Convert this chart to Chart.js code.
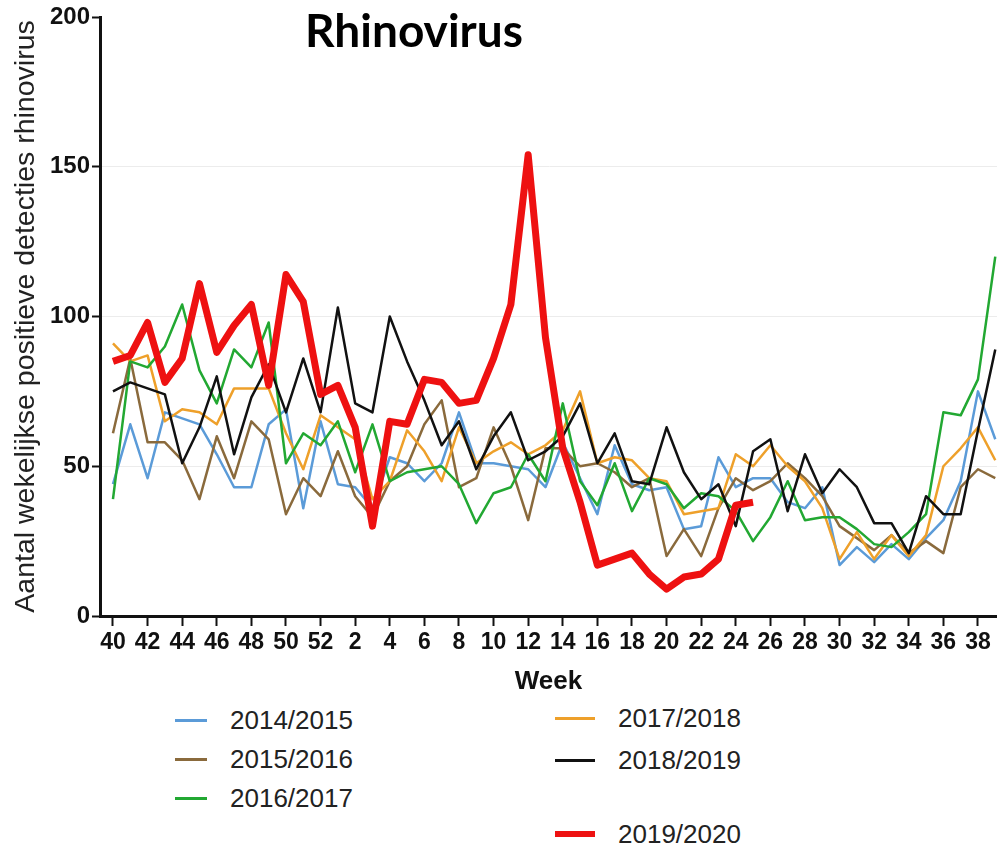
<!DOCTYPE html>
<html>
<head>
<meta charset="utf-8">
<script src="https://cdn.jsdelivr.net/npm/chart.js@4.4.1/dist/chart.umd.min.js"></script>
<style>
  html, body { margin: 0; padding: 0; background: #fff; width: 997px; height: 851px; overflow: hidden; }
  #wrap { position: relative; width: 997px; height: 851px; }
  #c { position: absolute; left: 0; top: 0; }
  #title { position: absolute; left: 214px; width: 400px; top: 3px; text-align: center;
           font: bold 46px Lato, 'Open Sans', sans-serif; color: #000; line-height: 54px; }
  .leg { position: absolute; display: flex; align-items: center; height: 30px;
         font: 26px 'Liberation Sans', Arial, sans-serif; color: #222; white-space: nowrap; }
  .leg .sw { display: inline-block; width: 32px; margin-right: 23px; }
</style>
</head>
<body>
<div id="wrap">
  <canvas id="c" width="997" height="700"></canvas>
  <div id="title">Rhinovirus</div>
</div>
<script>
// Tick labels / categories (week numbers, season runs week 40 -> week 39)
const weeks = [40,41,42,43,44,45,46,47,48,49,50,51,52,1,2,3,4,5,6,7,8,9,10,11,12,13,14,15,16,17,18,19,20,21,22,23,24,25,26,27,28,29,30,31,32,33,34,35,36,37,38,39];

const seasonNames = ['2014/2015','2015/2016','2016/2017','2017/2018','2018/2019','2019/2020'];

const s2014_2015 = [44,64,46,68,66,64,54,43,43,64,69,36,65, 44,43,36,53,51,45,51,68,51,51,50,49,43, 58,46,34,57,44,42,43,29,30,53,43,46,46, 38,36,43,17,23,18,24,19,26,32,45,75,59];
const s2015_2016 = [61,86,58,58,52,39,60,46,65,59,34,46,40, 55,40,33,45,50,64,72,43,46,63,50,32,56, 56,50,51,48,43,46,20,29,20,36,46,42,45, 51,46,40,30,26,22,27,21,25,21,43,49,46];
const s2016_2017 = [39,85,83,90,104,82,71,89,83,98,51,61,57, 65,48,64,45,48,49,50,44,31,41,43,54,45, 71,45,37,51,35,46,44,36,41,40,35,25,33, 45,32,33,33,29,24,23,28,34,68,67,79,120];
const s2017_2018 = [91,85,87,65,69,68,64,76,76,76,61,49,67, 63,59,39,45,62,55,45,63,51,55,58,54,57, 62,75,51,53,52,46,45,34,35,36,54,50,57, 50,45,36,19,28,19,27,20,27,50,56,63,52];
const s2018_2019 = [75,78,76,74,51,63,80,54,73,84,68,86,68, 103,71,68,100,85,72,57,65,49,60,68,52,55, 60,71,51,61,45,44,63,48,39,44,30,55,59, 35,54,41,49,43,31,31,21,40,34,34,62,89];
const s2019_2020 = [85,87,98,78,86,111,88,97,104,77,114,105,74, 77,63,30,65,64,79,78,71,72,86,104,154,93, 56,38,17,19,21,14,9,13,14,19,37,38,null, null,null,null,null,null,null,null,null,null,null,null,null,null];

const yTicks = [0,50,100,150,200];

// styles (kept apart from the data)
const seasonColors = ['#5b9bd8','#8a6a3c','#22a832','#eea02a','#111111','#ee1111'];
const seasonWidths = [2.5,2.5,2.5,2.5,2.5,7];
const seasonOrder  = [5,4,2,3,1,0];

const seriesList = [s2014_2015, s2015_2016, s2016_2017, s2017_2018, s2018_2019, s2019_2020];

const FONT = "'Liberation Sans', Arial, sans-serif";

const datasets = seriesList.map((vals, k) => ({
  label: seasonNames[k],
  data: vals.map((v, i) => ({ x: i, y: v })),
  borderColor: seasonColors[k],
  backgroundColor: seasonColors[k],
  borderWidth: seasonWidths[k],
  pointRadius: 0,
  tension: 0,
  spanGaps: false,
  order: seasonOrder[k],
  borderJoinStyle: 'round'
}));

new Chart(document.getElementById('c'), {
  type: 'line',
  data: { datasets },
  options: {
    responsive: false,
    animation: false,
    layout: { padding: { top: 17, right: 0, bottom: 0, left: 0 } },
    plugins: { legend: { display: false }, tooltip: { enabled: false }, title: { display: false } },
    scales: {
      x: {
        type: 'linear',
        min: -0.75,
        max: 51.1,
        afterBuildTicks: (s) => { s.ticks = weeks.map((w, i) => ({ value: i })).filter(t => t.value % 2 === 0); },
        afterFit: (s) => { s.height = 84; },
        border: { display: true, color: '#111', width: 3 },
        grid: { display: true, drawOnChartArea: false, drawTicks: true, tickColor: '#111', tickLength: 10, tickWidth: 2 },
        ticks: { autoSkip: false, maxRotation: 0, minRotation: 0, padding: 3, color: '#111',
                 font: { family: FONT, size: 23, weight: 'bold' },
                 callback: (v) => weeks[v] },
        title: { display: true, text: 'Week', color: '#111', padding: { top: 0, bottom: 3 },
                 font: { family: FONT, size: 26, weight: 'bold' } }
      },
      y: {
        min: 0,
        max: 200,
        afterBuildTicks: (s) => { s.ticks = yTicks.map(v => ({ value: v })); },
        afterFit: (s) => { s.width = 100; },
        border: { display: true, color: '#111', width: 3 },
        grid: { color: (ctx) => (ctx.tick && (ctx.tick.value === 0 || ctx.tick.value === 200)) ? 'rgba(0,0,0,0)' : '#ececec',
                lineWidth: 1, tickColor: '#111', tickLength: 8, tickWidth: 2 },
        ticks: { padding: 2, color: '#111', font: { family: FONT, size: 24, weight: 'bold' } },
        title: { display: true, text: 'Aantal wekelijkse positieve detecties rhinovirus', color: '#222',
                 padding: { top: 9, bottom: 0 }, font: { family: FONT, size: 28.5 } }
      }
    }
  }
});

// HTML legend built from the series names/colours
const legendPos = [
  { left: 175, top: 705 }, { left: 175, top: 744 }, { left: 175, top: 783 },
  { left: 555, top: 703 }, { left: 555, top: 745 }, { left: 555, top: 819 }
];
const wrap = document.getElementById('wrap');
seasonNames.forEach((name, k) => {
  const d = document.createElement('div');
  d.className = 'leg';
  d.style.left = legendPos[k].left + 'px';
  d.style.top = legendPos[k].top + 'px';
  const sw = document.createElement('span');
  sw.className = 'sw';
  sw.style.height = (k === 5 ? 6 : 3) + 'px';
  sw.style.background = seasonColors[k];
  if (k >= 3) sw.style.width = '40px';
  d.appendChild(sw);
  d.appendChild(document.createTextNode(name));
  wrap.appendChild(d);
});
</script>
</body>
</html>
